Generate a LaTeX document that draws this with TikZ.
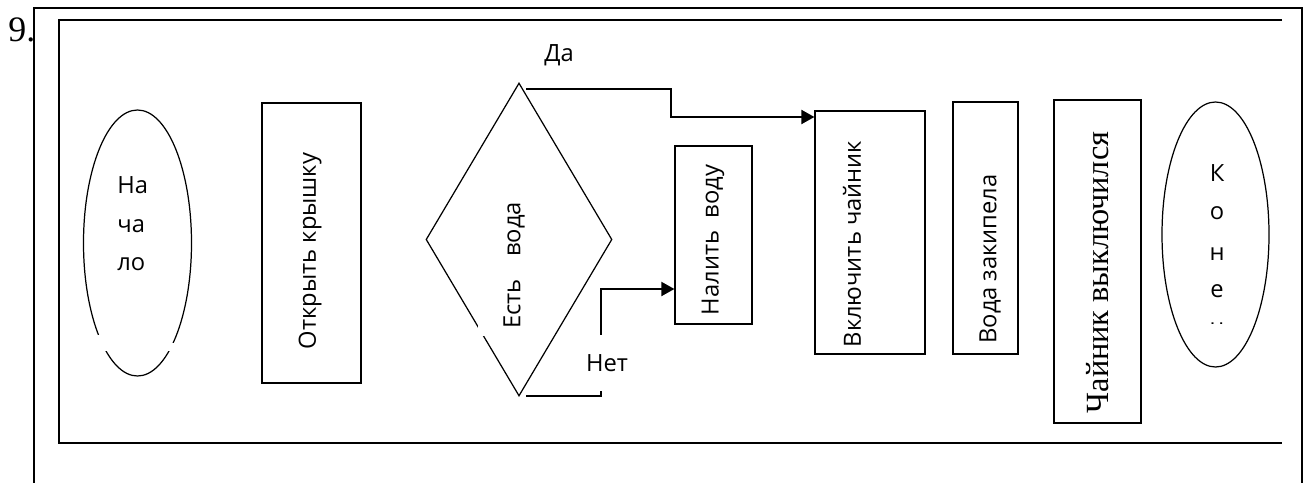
\documentclass[tikz,border=0pt]{standalone}
\usepackage{fontspec}
\setmainfont{Open Sans}
\newfontfamily\timesfont{Liberation Serif}
\usepackage{tikz}
\usetikzlibrary{shapes.geometric}
\usetikzlibrary{arrows.meta}
\newlength\pxu
\setlength\pxu{0.02cm}
\tikzset{frame/.style={draw=black,line width=0.7pt}}
\tikzset{block/.style={rectangle,draw=black,line width=0.7pt,inner sep=0pt}}
\tikzset{term/.style={ellipse,draw=black,line width=0.7pt,inner sep=0pt}}
\tikzset{txt/.style={inner sep=0pt,font=\fontsize{13.5}{16}\selectfont}}
\tikzset{vtext/.style={txt,rotate=90}}
\tikzset{arr/.style={line width=1pt,-{Triangle[length=7.4pt,width=8pt]}}}

\begin{document}
\begin{tikzpicture}[x=\pxu,y=-\pxu]
\useasboundingbox (0,0) rectangle (1311,483);

% frames
\draw[frame] (34,483) -- (34,8) -- (1302,8) -- (1302,483);
\draw[frame] (1282,20) -- (59,20) -- (59,443) -- (1282,443);
\node[anchor=base west,inner sep=0pt,font=\timesfont\fontsize{20.4}{24}\selectfont] (num) at (8,42) {9.};

% start
\node[term,minimum width=108\pxu,minimum height=266\pxu] (S) at (137.5,243) {};
\fill[white] (90,335) rectangle (110,351);
\fill[white] (160,343) rectangle (182,351);
\foreach \i/\s/\y in {1/На/193,2/ча/232,3/ло/270}
{
	\node[txt,anchor=base west] (S\i) at (117,\y) {\s};
}

\node[block,minimum width=99\pxu,minimum height=280\pxu] (O) at (311.5,243) {};
\node[vtext] (Ot) at (310,251) {Открыть крышку};

% decision
\node[diamond,draw=black,line width=0.7pt,inner sep=0pt,minimum width=186\pxu,minimum height=313\pxu] (D) at (519,239.5) {};
\node[vtext,fill=white,minimum width=141\pxu,minimum height=72\pxu] (Dt) at (514,265.5) {Есть\hspace{0.45cm}вода};

\node[block,minimum width=77\pxu,minimum height=178\pxu] (N) at (713.5,235) {};
\node[vtext] (Nt) at (713,240) {Налить\hspace{0.25cm}воду};

\node[block,minimum width=110\pxu,minimum height=243\pxu] (V) at (870,232.5) {};
\node[vtext] (Vt) at (852,244) {Включить чайник};

\node[block,minimum width=65\pxu,minimum height=252\pxu] (B) at (985.5,228) {};
\node[vtext] (Bt) at (990,259) {Вода закипела};

\node[block,minimum width=87\pxu,minimum height=323\pxu] (C) at (1097.5,261.5) {};
\node[vtext,font=\timesfont\fontsize{18.4}{22}\selectfont] (Ct) at (1098,272.5) {Чайник выключился};

% end
\node[term,minimum width=107\pxu,minimum height=265\pxu] (E) at (1215.5,234.5) {};
\foreach \i/\s/\y in {1/К/181,2/о/219,3/н/260,4/е/297}
{
	\node[txt,anchor=base] (E\i) at (1217,\y) {\s};
}
\begin{scope}
\clip (1200,320) rectangle (1235,323.5);
\node[txt,anchor=base] (E5) at (1217,335) {ц};
\end{scope}

% branches
\coordinate (Dy) at (526,89);
\coordinate (Dn) at (526,396);
\draw[arr] (Dy) -- (671,89) -- (671,117) -- (V.west |- 0,117);
\draw[arr] (Dn) -- (601,396) -- (601,289) -- (N.west |- 0,289);
\node[txt,anchor=base] (yes) at (559,62) {Да};
\node[txt,fill=white,minimum width=44\pxu,minimum height=56\pxu] (no) at (607,363) {Нет};

\end{tikzpicture}
\end{document}
